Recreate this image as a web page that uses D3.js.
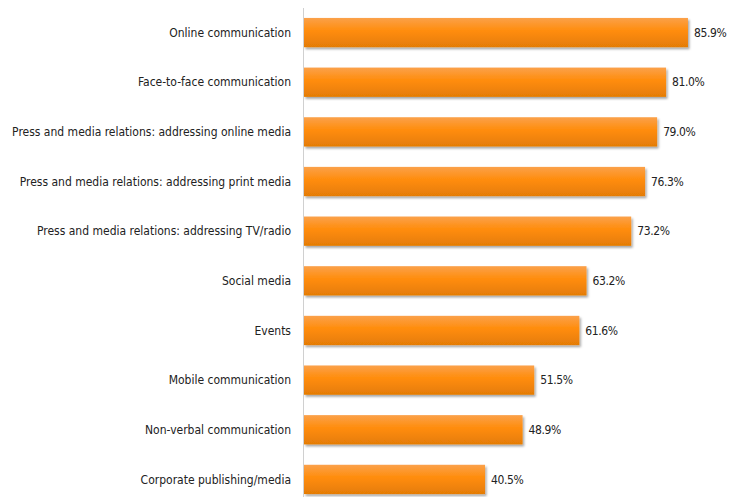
<!DOCTYPE html>
<html>
<head>
<meta charset="utf-8">
<script src="https://d3js.org/d3.v7.min.js"></script>
<style>
  body { margin: 0; background: #fff; }
  text { font-family: "Liberation Sans Narrow", "DejaVu Sans Condensed", sans-serif; fill: #222; }
</style>
</head>
<body>
<div class="chart"></div>
<script>
// categories and values, top to bottom
var categories = ["Online communication", "Face-to-face communication",
  "Press and media relations: addressing online media",
  "Press and media relations: addressing print media",
  "Press and media relations: addressing TV/radio",
  "Social media", "Events", "Mobile communication",
  "Non-verbal communication", "Corporate publishing/media"];
var values = [85.9, 81.0, 79.0, 76.3, 73.2, 63.2, 61.6, 51.5, 48.9, 40.5];

var width = 729, height = 497;

var svg = d3.select(".chart")
  .append("svg")
    .attr("width", width)
    .attr("height", height);

var defs = svg.append("defs");
var grad = defs.append("linearGradient")
    .attr("id", "barGrad")
    .attr("x1", 0).attr("y1", 0).attr("x2", 0).attr("y2", 1);
grad.append("stop").attr("offset", "0%").attr("stop-color", "#fba14a");
grad.append("stop").attr("offset", "45%").attr("stop-color", "#ff8c0a");
grad.append("stop").attr("offset", "100%").attr("stop-color", "#e47c06");

var shadow = defs.append("filter")
    .attr("id", "shadow")
    .attr("x", "-5%").attr("y", "-20%").attr("width", "110%").attr("height", "160%");
shadow.append("feDropShadow")
    .attr("dx", 1.5).attr("dy", 2)
    .attr("stdDeviation", 1.2)
    .attr("flood-color", "#000")
    .attr("flood-opacity", 0.35);

var data = categories.map(function(c, i) { return {name: c, value: values[i]}; });

// x scale: 0-100%
var x = d3.scaleLinear()
  .domain([0, 100])
  .range([304, 751]);

var y = d3.scaleBand()
  .domain(categories)
  .range([8, 504])
  .paddingInner(0.41)
  .paddingOuter(0.2);

// bars
svg.selectAll(".bar")
  .data(data)
  .enter()
  .append("rect")
    .attr("class", "bar")
    .attr("x", x(0))
    .attr("y", function(d) { return y(d.name); })
    .attr("width", function(d) { return x(d.value) - x(0); })
    .attr("height", y.bandwidth())
    .attr("fill", "url(#barGrad)")
    .attr("filter", "url(#shadow)");

// vertical axis line
svg.append("line")
  .attr("x1", 303.5).attr("x2", 303.5)
  .attr("y1", 8).attr("y2", height)
  .attr("stroke", "#d0d0d0")
  .attr("stroke-width", 1);

// category labels
svg.selectAll(".cat")
  .data(data)
  .enter()
  .append("text")
    .attr("class", "cat")
    .attr("x", 291)
    .attr("y", function(d) { return y(d.name) + y.bandwidth() / 2; })
    .attr("dy", "0.35em")
    .attr("text-anchor", "end")
    .attr("font-size", "12px")
    .text(function(d) { return d.name; });

// value labels
svg.selectAll(".val")
  .data(data)
  .enter()
  .append("text")
    .attr("class", "val")
    .attr("x", function(d) { return x(d.value) + 6; })
    .attr("y", function(d) { return y(d.name) + y.bandwidth() / 2; })
    .attr("dy", "0.35em")
    .attr("font-size", "12px")
    .attr("letter-spacing", "-0.4px")
    .text(function(d) { return d.value.toFixed(1) + "%"; });
</script>
</body>
</html>
